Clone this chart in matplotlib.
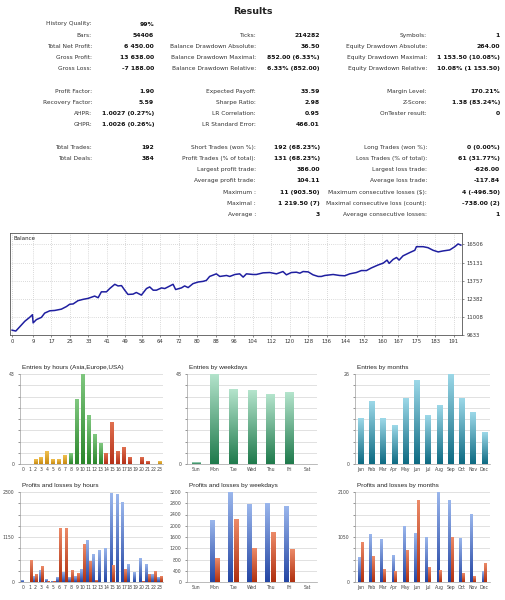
import numpy as np
import matplotlib
matplotlib.use("Agg")
import matplotlib.pyplot as plt
from matplotlib.colors import LinearSegmentedColormap

W, H = 506, 600

# ---- report table -------------------------------------------------------
col1 = [("History Quality:", "99%"), ("Bars:", "54406"), ("Total Net Profit:", "6 450.00"),
        ("Gross Profit:", "13 638.00"), ("Gross Loss:", "-7 188.00"), None,
        ("Profit Factor:", "1.90"), ("Recovery Factor:", "5.59"), ("AHPR:", "1.0027 (0.27%)"),
        ("GHPR:", "1.0026 (0.26%)"), None,
        ("Total Trades:", "192"), ("Total Deals:", "384")]
col2 = [None, ("Ticks:", "214282"), ("Balance Drawdown Absolute:", "36.50"),
        ("Balance Drawdown Maximal:", "852.00 (6.33%)"), ("Balance Drawdown Relative:", "6.33% (852.00)"), None,
        ("Expected Payoff:", "33.59"), ("Sharpe Ratio:", "2.98"), ("LR Correlation:", "0.95"),
        ("LR Standard Error:", "466.01"), None,
        ("Short Trades (won %):", "192 (68.23%)"), ("Profit Trades (% of total):", "131 (68.23%)"),
        ("Largest profit trade:", "386.00"), ("Average profit trade:", "104.11"),
        ("Maximum :", "11 (903.50)"), ("Maximal :", "1 219.50 (7)"), ("Average :", "3")]
col3 = [None, ("Symbols:", "1"), ("Equity Drawdown Absolute:", "264.00"),
        ("Equity Drawdown Maximal:", "1 153.50 (10.08%)"), ("Equity Drawdown Relative:", "10.08% (1 153.50)"), None,
        ("Margin Level:", "170.21%"), ("Z-Score:", "1.38 (83.24%)"), ("OnTester result:", "0"),
        None, None,
        ("Long Trades (won %):", "0 (0.00%)"), ("Loss Trades (% of total):", "61 (31.77%)"),
        ("Largest loss trade:", "-626.00"), ("Average loss trade:", "-117.84"),
        ("Maximum consecutive losses ($):", "4 (-496.50)"), ("Maximal consecutive loss (count):", "-738.00 (2)"),
        ("Average consecutive losses:", "1")]

# ---- balance curve ------------------------------------------------------
bal_x = [0, 1.6, 3.3, 5.5, 7.6, 8.8, 9.1, 10.5, 12.7, 14.1, 16.3, 18.4, 21.3, 23.5, 24.9, 26.4,
         28.5, 30.7, 32.9, 35.7, 37.2, 38.6, 40.8, 42.2, 44.4, 45.8, 47.3, 48.7, 50.1, 52.3, 53.7,
         55.9, 58.1, 59.5, 61.0, 62.4, 64.6, 66.0, 67.4, 69.6, 70.7, 73.2, 74.6, 76.1, 78.2, 80.4,
         82.6, 84.0, 85.4, 88.3, 89.8, 92.7, 94.1, 96.3, 98.4, 99.9, 101.3, 104.2,
         105.6, 108.5, 111.4, 114.3, 117.1, 118.6, 120.7, 122.9, 124.4, 125.8, 128.0, 130.1, 132.3,
         133.7, 135.2, 138.8, 141.6, 143.8, 146.0, 148.8, 151.0, 153.2, 155.3, 158.2, 160.5, 162.1,
         163.0, 164.7, 166.2, 167.3, 169.0, 171.9, 174.1, 174.8, 177.7, 179.8, 182.0, 184.2, 186.3,
         189.2, 191.4, 192.8, 194.0]
bal_y = [10000, 9931, 10253, 10675, 10973, 11171, 10551, 10799, 10973, 11295, 11469, 11494, 11593,
         11791, 11965, 11990, 12238, 12337, 12412, 12585, 12461, 12908, 12908, 13156, 13479, 13355,
         13380, 13032, 12710, 12734, 12858, 12660, 13156, 13280, 13032, 13032, 13206, 13156, 13280,
         13479, 13082, 13206, 13355, 13230, 13528, 13652, 13702, 13776, 14074, 14272, 14074, 14148,
         14074, 14223, 14272, 14024, 14272, 14223,
         14223, 14347, 14372, 14272, 14446, 14198, 14372, 14397, 14322, 14446, 14421, 14198, 14074,
         14074, 14148, 14223, 14148, 14124, 14272, 14372, 14521, 14521, 14719, 14942, 15091, 15314,
         15066, 15364, 15513, 15314, 15637, 15885, 16059, 16332, 16332, 16257, 16059, 15935, 16009,
         16084, 16332, 16540, 16450]
bal_xticks = [0, 9, 17, 25, 33, 41, 49, 56, 64, 72, 80, 88, 96, 104, 112, 120, 128, 136, 144, 152,
              160, 167, 175, 183, 191]
bal_yticks = [9633, 11008, 12382, 13757, 15131, 16506]

# ---- distributions ------------------------------------------------------
hours = [str(h) for h in range(24)]
hour_entries = [0, 0, 2, 3, 6, 2, 2, 4, 5, 31, 43, 23, 14, 10, 5, 20, 6, 8, 3, 0, 3, 1, 0, 1]
hour_session = ["a"] * 8 + ["e"] * 6 + ["u"] * 8 + ["a"] * 2
hour_profit = [43, 0, 145, 291, 68, 20, 111, 248, 111, 145, 325, 1069, 701, 795, 846, 2266, 2232,
               2035, 445, 231, 590, 453, 188, 103]
hour_loss = [0, 556, 197, 402, 17, 15, 1377, 1377, 291, 205, 966, 530, 43, 0, 0, 428, 0, 325, 0, 0,
             17, 188, 257, 137]

days = ["Sun", "Mon", "Tue", "Wed", "Thu", "Fri", "Sat"]
day_entries = [1, 48, 40, 39, 37, 38, 0]
day_profit = [0, 2203, 3200, 2766, 2789, 2696, 0]
day_loss = [0, 844, 2227, 1195, 1746, 1160, 0]

months = ["Jan", "Feb", "Mar", "Apr", "May", "Jun", "Jul", "Aug", "Sep", "Oct", "Nov", "Dec"]
month_entries = [13, 18, 13, 11, 19, 24, 14, 17, 26, 19, 15, 9]
month_profit = [564, 1104, 988, 618, 1297, 1127, 1034, 2100, 1907, 1004, 1567, 247]
month_loss = [927, 587, 293, 247, 726, 1899, 340, 270, 1034, 193, 131, 440]

fig = plt.figure(figsize=(W / 100, H / 100), dpi=100)
fig.patch.set_facecolor("white")


def px_axes(l, t, r, b):
    return fig.add_axes([l / W, 1 - b / H, (r - l) / W, (b - t) / H])


def ftext(x, y, s, **kw):
    fig.text(x / W, 1 - y / H, s, va="center", **kw)


# table
ftext(253, 12, "Results", ha="center", fontsize=6.8, fontweight="bold", color="#222222")
cols = [(col1, 92, 154), (col2, 256, 320), (col3, 427, 500)]
for rows, lx, vx in cols:
    for i, row in enumerate(rows):
        if row is None:
            continue
        y = 24 + i * 11.2
        ftext(lx, y, row[0], ha="right", fontsize=4.2, color="#333333")
        ftext(vx, y, row[1], ha="right", fontsize=4.4, fontweight="bold", color="#111111")

# balance chart
ax = px_axes(10, 233, 462, 335)
ax.plot(bal_x, bal_y, color="#1f1fa0", lw=1.1)
ax.set_xlim(-0.9, 194.5)
ax.set_ylim(9633, 17370)
ax.set_xticks(bal_xticks)
ax.set_xticklabels([str(v) for v in bal_xticks])
ax.set_yticks(bal_yticks)
ax.set_yticklabels([str(v) for v in bal_yticks])
ax.yaxis.tick_right()
ax.tick_params(labelsize=3.8, length=1.5, width=0.4, pad=1.5, colors="#333333")
ax.grid(True, ls=(0, (1, 2)), color="#b8b8b8", lw=0.5)
for s in ax.spines.values():
    s.set_color("#555555")
    s.set_linewidth(0.6)
ax.text(0.008, 0.93, "Balance", transform=ax.transAxes, fontsize=4, color="#222222")


def grad_bars(ax, bars, top, bottom):
    cmap = LinearSegmentedColormap.from_list("g", [bottom, top])
    grad = np.linspace(0, 1, 64).reshape(-1, 1)
    for b in bars:
        x0, y0 = b.get_xy()
        w, h = b.get_width(), b.get_height()
        b.set_visible(False)
        if h <= 0:
            continue
        ax.imshow(grad, cmap=cmap, extent=[x0, x0 + w, y0, y0 + h], origin="lower",
                  aspect="auto", zorder=3, interpolation="bilinear")


def small_axes(l, t, r, b, title, cats, ymax, ylabels_every):
    a = px_axes(l, t, r, b)
    a.set_xlim(-0.5, len(cats) - 0.5)
    a.set_ylim(0, ymax)
    ticks = np.linspace(0, ymax, 9)
    a.set_yticks(ticks)
    a.set_yticklabels([f"{t:.0f}" if i % ylabels_every == 0 else "" for i, t in enumerate(ticks)])
    a.set_xticks(range(len(cats)))
    a.set_xticklabels(cats)
    a.tick_params(axis="y", labelsize=3.3, length=1.5, width=0.4, pad=2.5, colors="#444444")
    a.tick_params(axis="x", labelsize=3.3, length=0, pad=2, colors="#444444")
    a.grid(axis="y", color="#d4d4d4", lw=0.5, zorder=0)
    a.set_axisbelow(True)
    for side in ["top", "right"]:
        a.spines[side].set_visible(False)
    for side in ["left", "bottom"]:
        a.spines[side].set_color("#a0a0a0")
        a.spines[side].set_linewidth(0.5)
    fig.text((l + 2) / W, 1 - (t - 6) / H, title, fontsize=4.6, color="#222222", va="center",
             family="Liberation Sans")
    return a


L = [(20, 163), (187, 317), (355, 490)]

# entries by hours
a = small_axes(L[0][0], 374, L[0][1], 464, "Entries by hours (Asia,Europe,USA)", hours, 43, 8)
xs = np.arange(24)
sess = {"a": ("#f0c050", "#c88a10"), "e": ("#80c880", "#2a862a"), "u": ("#e07050", "#b43018")}
for key, (ct, cb) in sess.items():
    idx = [i for i, s in enumerate(hour_session) if s == key]
    bars = a.bar(xs[idx], [hour_entries[i] for i in idx], width=0.6)
    grad_bars(a, bars, ct, cb)
a.set_xlim(-0.6, 23.6)
a.set_ylim(0, 43)

# entries by weekdays
a = small_axes(L[1][0], 374, L[1][1], 464, "Entries by weekdays", days, 48, 8)
bars = a.bar(range(7), day_entries, width=0.48)
grad_bars(a, bars, "#b4e4cc", "#1f7a4c")
a.set_xlim(-0.5, 6.5)
a.set_ylim(0, 48)

# entries by months
a = small_axes(L[2][0], 374, L[2][1], 464, "Entries by months", months, 26, 8)
bars = a.bar(range(12), month_entries, width=0.5)
grad_bars(a, bars, "#9cd8e8", "#0d6a82")
a.set_xlim(-0.5, 11.5)
a.set_ylim(0, 26)

BLUE = ("#9ab6ec", "#2446a4")
RED = ("#ec8a68", "#b0300f")

# profits and losses by hours
a = small_axes(L[0][0], 492, L[0][1], 582, "Profits and losses by hours", hours, 2300, 4)
grad_bars(a, a.bar(xs - 0.22, hour_profit, width=0.42), *BLUE)
grad_bars(a, a.bar(xs + 0.22, hour_loss, width=0.42), *RED)
a.set_xlim(-0.6, 23.6)
a.set_ylim(0, 2300)

# profits and losses by weekdays
a = small_axes(L[1][0], 492, L[1][1], 582, "Profits and losses by weekdays", days, 3200, 1)
xd = np.arange(7)
grad_bars(a, a.bar(xd - 0.15, day_profit, width=0.25), *BLUE)
grad_bars(a, a.bar(xd + 0.15, day_loss, width=0.25), *RED)
a.set_xlim(-0.5, 6.5)
a.set_ylim(0, 3200)

# profits and losses by months
a = small_axes(L[2][0], 492, L[2][1], 582, "Profits and losses by months", months, 2100, 4)
xm = np.arange(12)
grad_bars(a, a.bar(xm - 0.13, month_profit, width=0.24), *BLUE)
grad_bars(a, a.bar(xm + 0.13, month_loss, width=0.24), *RED)
a.set_xlim(-0.5, 11.5)
a.set_ylim(0, 2100)

fig.savefig("out.png", dpi=100, facecolor="white")
